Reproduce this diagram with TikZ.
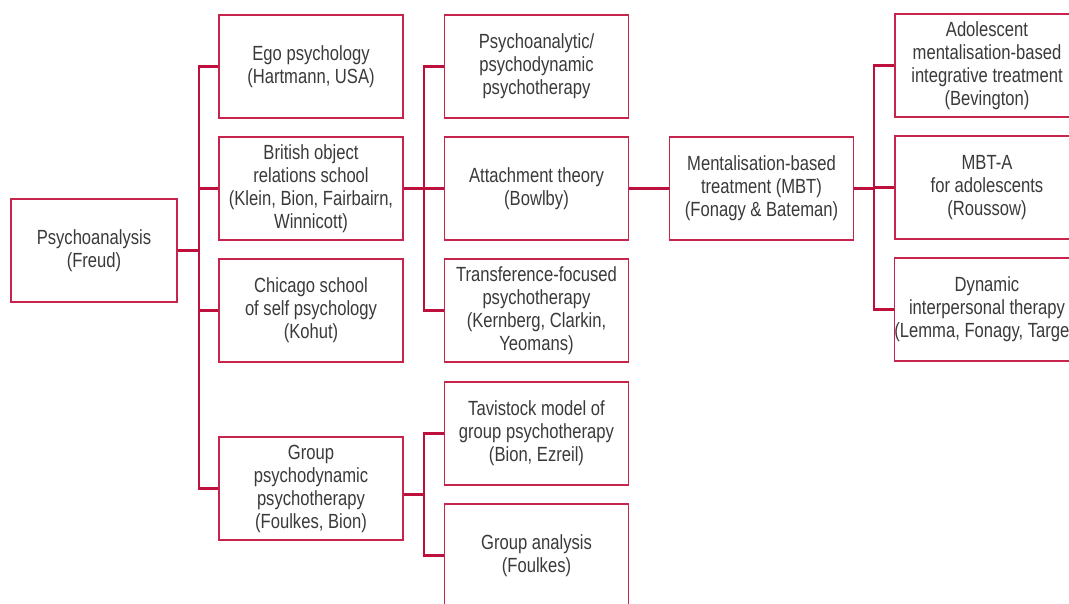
\documentclass[tikz,border=0pt]{standalone}
\usepackage{fontspec}
\setmainfont{Liberation Sans}[FakeStretch=0.81]
\usetikzlibrary{calc}
\definecolor{crim}{RGB}{190,16,60}
\definecolor{boxc}{RGB}{198,36,76}
\definecolor{txt}{RGB}{58,58,58}
\tikzset{
  box/.style={draw=boxc, line width=1.4pt, fill=white, minimum width=184pt, minimum height=103pt,
    inner sep=0pt, align=center, text=txt, font=\fontsize{20.5}{23}\selectfont},
  link/.style={draw=crim, line width=2.2pt}
}
\begin{document}
\begin{tikzpicture}[x=1pt,y=-1pt]
\useasboundingbox (0,0) rectangle (1069,603);
\clip (0,0) rectangle (1069,603);
\fill[white] (0,0) rectangle (1069,603);
% trunk coordinates
\coordinate (t1) at (199,0);
\coordinate (t2) at (424,0);
\coordinate (t3) at (874,0);
% nodes
\node[box, minimum width=166pt] (psa) at (94,250.5) {Psychoanalysis\\(Freud)};
\node[box] (ego) at (311,66.5) {Ego psychology\\(Hartmann, USA)};
\node[box] (bri) at (311,188.5) {British object\\relations school\\(Klein, Bion, Fairbairn,\\Winnicott)};
\node[box] (chi) at (311,310.5) {Chicago school\\of self psychology\\(Kohut)};
\node[box] (grp) at (311,488.5) {Group\\psychodynamic\\psychotherapy\\(Foulkes, Bion)};
\node[box] (pp) at (536.5,66.5) {Psychoanalytic/\\psychodynamic\\psychotherapy};
\node[box] (att) at (536.5,188.5) {Attachment theory\\(Bowlby)};
\node[box] (tfp) at (536.5,310.5) {Transference-focused\\psychotherapy\\(Kernberg, Clarkin,\\Yeomans)};
\node[box] (tav) at (536.5,433.5) {Tavistock model of\\group psychotherapy\\(Bion, Ezreil)};
\node[box] (gan) at (536.5,555.5) {Group analysis\\(Foulkes)};
\node[box] (mbt) at (761.5,188.5) {Mentalisation-based\\treatment (MBT)\\(Fonagy \& Bateman)};
\node[box] (ado) at (987,65.5) {Adolescent\\mentalisation-based\\integrative treatment\\(Bevington)};
\node[box] (mbta) at (987,187.5) {MBT-A\\for adolescents\\(Roussow)};
\node[box] (dit) at (987,309.5) {Dynamic\\interpersonal therapy\\(Lemma, Fonagy, Target)};
% level 1
\draw[link] (ego.west) -- (ego.west -| t1) -- (grp.west -| t1) -- (grp.west);
\draw[link] (bri.west) -- (bri.west -| t1);
\draw[link] (chi.west) -- (chi.west -| t1);
\draw[link] (psa.east) -- (psa.east -| t1);
% level 2
\draw[link] (pp.west) -- (pp.west -| t2) -- (tfp.west -| t2) -- (tfp.west);
\draw[link] (bri.east) -- (att.west);
% group branch
\coordinate (gm) at ($(tav.west)!0.5!(gan.west)$);
\draw[link] (tav.west) -- (tav.west -| t2) -- (gan.west -| t2) -- (gan.west);
\draw[link] (grp.east |- gm) -- (gm -| t2);
% MBT
\draw[link] (att.east) -- (mbt.west);
\draw[link] (ado.west) -- (ado.west -| t3) -- (dit.west -| t3) -- (dit.west);
\draw[link] (mbt.east) -- (mbt.east -| t3);
\draw[link] (mbta.west) -- (mbta.west -| t3);
\end{tikzpicture}
\end{document}
